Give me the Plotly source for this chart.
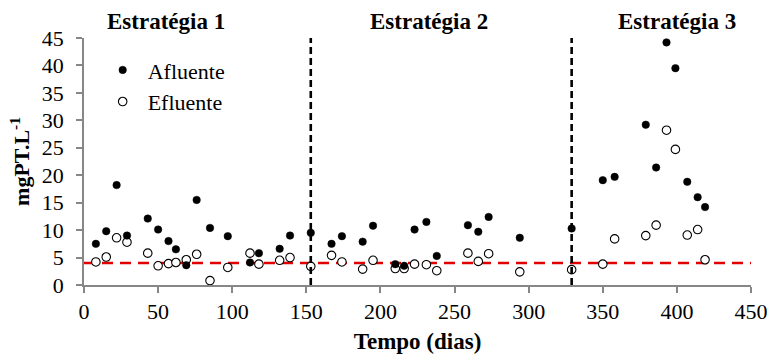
import plotly.graph_objects as go

# ---- data ----
days = [8, 15, 22, 29, 43, 50, 57, 62, 69, 76, 85, 97, 112, 118, 132, 139, 153, 167, 174, 188,
        195, 210, 216, 223, 231, 238, 259, 266, 273, 294, 329, 350, 358, 379, 386, 393, 399, 407, 414, 419]
afluente = [7.5, 9.8, 18.2, 9.0, 12.1, 10.1, 8.0, 6.5, 3.6, 15.5, 10.4, 8.9, 4.1, 5.8, 6.6, 9.0, 9.5, 7.5, 8.9, 7.9,
            10.8, 3.8, 3.5, 10.1, 11.5, 5.3, 10.9, 9.7, 12.4, 8.6, 10.3, 19.1, 19.7, 29.2, 21.4, 44.2, 39.5, 18.8, 16.0, 14.2]
efluente = [4.2, 5.1, 8.6, 7.8, 5.8, 3.5, 3.9, 4.1, 4.6, 5.6, 0.8, 3.2, 5.8, 3.8, 4.5, 5.0, 3.4, 5.4, 4.2, 2.9,
            4.5, 3.0, 3.0, 3.8, 3.7, 2.6, 5.8, 4.3, 5.7, 2.4, 2.8, 3.8, 8.4, 9.0, 10.9, 28.2, 24.7, 9.1, 10.1, 4.6]
limit_value = 4.0
strategy_breaks = [153, 329]
strategy_labels = ["Estratégia 1", "Estratégia 2", "Estratégia 3"]
strategy_label_x = [55, 233, 400]
x_ticks = list(range(0, 451, 50))
y_ticks = list(range(0, 46, 5))

FONT = "Liberation Serif"
AXIS_COLOR = "#878787"

fig = go.Figure()
fig.add_trace(go.Scatter(
    x=days, y=efluente, mode="markers", name="Efluente", legendrank=2,
    marker=dict(symbol="circle", size=8.5, color="white", line=dict(color="black", width=1.1)),
))
fig.add_trace(go.Scatter(
    x=days, y=afluente, mode="markers", name="Afluente", legendrank=1,
    marker=dict(symbol="circle", size=7.5, color="black", line=dict(color="black", width=0.5)),
))

# red limit line
fig.add_shape(type="line", xref="x", yref="y", x0=0, x1=450, y0=limit_value, y1=limit_value,
              line=dict(color="#e00000", width=2.5, dash="11px,7px"), layer="below")
# strategy separators
for b in strategy_breaks:
    fig.add_shape(type="line", xref="x", yref="y", x0=b, x1=b, y0=0, y1=45,
                  line=dict(color="black", width=2.6, dash="7px,4px"), layer="above")

for lab, lx in zip(strategy_labels, strategy_label_x):
    fig.add_annotation(text=f"<b>{lab}</b>", x=lx, xref="x", y=1.065, yref="paper",
                       showarrow=False, xanchor="center", yanchor="middle",
                       font=dict(family=FONT, size=23, color="black"))

fig.update_layout(
    width=770, height=358,
    margin=dict(l=84, r=19, t=38, b=73, autoexpand=False),
    paper_bgcolor="white", plot_bgcolor="white",
    font=dict(family=FONT, size=22, color="black"),
    showlegend=True,
    legend=dict(x=0.0205, y=0.955, xanchor="left", yanchor="top", bgcolor="rgba(0,0,0,0)",
                itemwidth=40,
                font=dict(family=FONT, size=22, color="black"), tracegroupgap=0),
    xaxis=dict(range=[0, 450], tickvals=x_ticks, ticktext=[str(v) for v in x_ticks],
               showgrid=False, zeroline=False, showline=True, linecolor=AXIS_COLOR, linewidth=1.5,
               ticks="outside", tickcolor=AXIS_COLOR, ticklen=6, tickwidth=1.5,
               ticklabelstandoff=0, automargin=False,
               tickfont=dict(family=FONT, size=22, color="black"),
               title=dict(text="<b>Tempo (dias)</b>", font=dict(family=FONT, size=23, color="black"), standoff=10)),
    yaxis=dict(range=[0, 45], tickvals=y_ticks, ticktext=[str(v) for v in y_ticks],
               showgrid=False, zeroline=False, showline=True, linecolor=AXIS_COLOR, linewidth=1.5,
               ticks="outside", tickcolor=AXIS_COLOR, ticklen=6, tickwidth=1.5,
               ticklabelstandoff=8, automargin=False,
               tickfont=dict(family=FONT, size=22, color="black"),
               title=dict(text="<b>mgPT.L<sup>-1</sup></b>", font=dict(family=FONT, size=22, color="black"), standoff=6)),
)

fig.write_html("out.html")
